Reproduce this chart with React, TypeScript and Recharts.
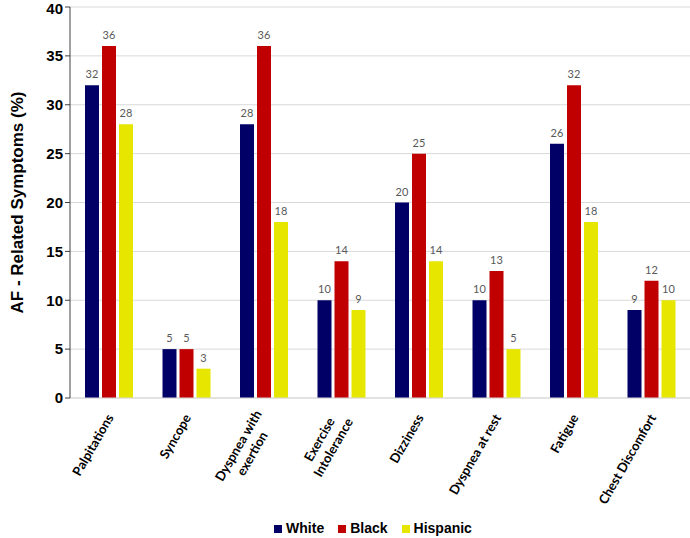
import { BarChart, Bar, XAxis, YAxis, CartesianGrid, Legend, LabelList } from 'recharts';

const categories = [
  'Palpitations',
  'Syncope',
  'Dyspnea with\nexertion',
  'Exercise\nIntolerance',
  'Dizziness',
  'Dyspnea at rest',
  'Fatigue',
  'Chest Discomfort',
];
const white = [32, 5, 28, 10, 20, 10, 26, 9];
const black = [36, 5, 36, 14, 25, 13, 32, 12];
const hispanic = [28, 3, 18, 9, 14, 5, 18, 10];
const yTicks = [0, 5, 10, 15, 20, 25, 30, 35, 40];
const seriesOrder = ['White', 'Black', 'Hispanic'];

const data = categories.map((name, i) => ({
  name,
  White: white[i],
  Black: black[i],
  Hispanic: hispanic[i],
}));

const TICK_FONT = 'bold 13px Lato';
let ctx: CanvasRenderingContext2D | null = null;
function measure(s: string) {
  if (!ctx) ctx = document.createElement('canvas').getContext('2d');
  if (!ctx) return s.length * 7;
  ctx.font = TICK_FONT;
  return ctx.measureText(s).width;
}

// rotated category labels, multi-line centered like Excel
function CategoryTick(props: any) {
  const { x, y, payload } = props;
  const lines = String(payload.value).split('\n');
  const maxW = Math.max(...lines.map(measure));
  const lh = 16;
  return (
    <g transform={`translate(${x + 1},${y + 9})`}>
      <g transform="rotate(-60)">
        {lines.map((l, i) => (
          <text
            key={i}
            x={-maxW / 2}
            y={(i - (lines.length - 1) / 2) * lh}
            textAnchor="middle"
            dominantBaseline="central"
            fontFamily="Lato"
            fontWeight="bold"
            fontSize={13}
            fill="#000"
          >
            {l}
          </text>
        ))}
      </g>
    </g>
  );
}

function ValueLabel(props: any) {
  const { x, y, width, value } = props;
  return (
    <text x={x + width / 2} y={y - 7} textAnchor="middle" fill="#595959" fontSize={11} fontFamily="Lato">
      {value}
    </text>
  );
}

export default function App() {
  return (
    <div style={{ position: 'absolute', left: 0, top: 0, width: 690, height: 538, background: '#fff' }}>
      <BarChart
        width={690}
        height={538}
        data={data}
        margin={{ top: 7, right: 0, left: 0, bottom: 0 }}
        barCategoryGap="19%"
        barGap={3}
      >
        <CartesianGrid vertical={false} stroke="#d9d9d9" />
        <XAxis
          dataKey="name"
          interval={0}
          tickLine={false}
          axisLine={{ stroke: '#d9d9d9' }}
          tick={<CategoryTick />}
          height={121}
        />
        <YAxis
          width={70}
          domain={[0, 40]}
          ticks={yTicks}
          tickLine={{ stroke: '#404040' }}
          tickSize={5}
          axisLine={{ stroke: '#404040' }}
          tick={{ fill: '#000', fontSize: 15, fontWeight: 'bold', fontFamily: 'Liberation Sans' }}
          label={{
            value: 'AF - Related Symptoms (%)',
            angle: -90,
            position: 'insideLeft',
            dx: 12,
            style: { textAnchor: 'middle', fill: '#000', fontSize: 17, fontWeight: 'bold', fontFamily: 'Liberation Sans' },
          }}
        />
        <Legend
          verticalAlign="bottom"
          height={19}
          iconType="square"
          iconSize={8}
          wrapperStyle={{ left: 70, width: 620 }}
          itemSorter={(item: any) => seriesOrder.indexOf(item.value)}
          formatter={(v: string) => (
            <span style={{ color: '#000', fontWeight: 'bold', fontSize: 14, fontFamily: 'Liberation Sans', marginRight: 4 }}>{v}</span>
          )}
        />
        <Bar dataKey="White" fill="#000066" barSize={14} isAnimationActive={false}>
          <LabelList dataKey="White" content={<ValueLabel />} />
        </Bar>
        <Bar dataKey="Black" fill="#C00000" barSize={14} isAnimationActive={false}>
          <LabelList dataKey="Black" content={<ValueLabel />} />
        </Bar>
        <Bar dataKey="Hispanic" fill="#E6E600" barSize={14} isAnimationActive={false}>
          <LabelList dataKey="Hispanic" content={<ValueLabel />} />
        </Bar>
      </BarChart>
    </div>
  );
}
